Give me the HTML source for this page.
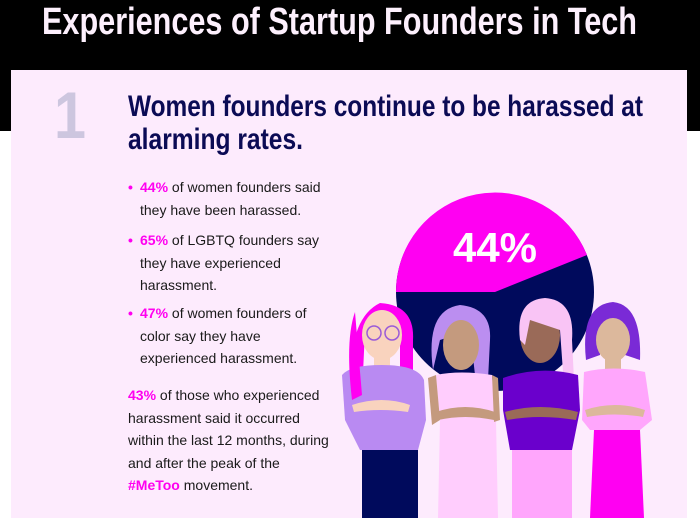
<!DOCTYPE html>
<html><head><meta charset="utf-8"><style>
*{margin:0;padding:0}
body{width:700px;height:518px;position:relative;overflow:hidden;background:#fff;font-family:"Liberation Sans",sans-serif}
#top{position:absolute;left:0;top:0;width:700px;height:131px;background:#000}
#panel{position:absolute;left:11px;top:70px;width:676px;height:448px;background:#fdebfd}
.t{position:absolute;left:128px;color:#1a1a1a;font-size:14px;line-height:22.5px;white-space:nowrap}
.t b{color:#ff00f0}
.t .d{color:#ff00f0;font-weight:bold;display:inline-block;width:12px}
.t .i{padding-left:12px}
</style></head><body>
<div id="top"></div>
<div id="panel"></div>
<svg style="position:absolute;left:0;top:0" width="700" height="160">
<text x="42" y="34" fill="#fdf0fd" font-family="Liberation Sans" font-weight="bold" font-size="38" textLength="595" lengthAdjust="spacingAndGlyphs">Experiences of Startup Founders in Tech</text>
<text x="54" y="138" fill="#cdc6df" font-family="Liberation Sans" font-weight="bold" font-size="66" textLength="32" lengthAdjust="spacingAndGlyphs">1</text>
<text x="128" y="116" fill="#0b0b55" font-family="Liberation Sans" font-weight="bold" font-size="30" textLength="515" lengthAdjust="spacingAndGlyphs">Women founders continue to be harassed at</text>
<text x="128" y="149" fill="#0b0b55" font-family="Liberation Sans" font-weight="bold" font-size="30" textLength="175" lengthAdjust="spacingAndGlyphs">alarming rates.</text>
</svg>
<div class="t" style="top:176px"><span class="d">•</span><b>44%</b> of women founders said<br><span class="i">they have been harassed.</span></div>
<div class="t" style="top:229px"><span class="d">•</span><b>65%</b> of LGBTQ founders say<br><span class="i">they have experienced</span><br><span class="i">harassment.</span></div>
<div class="t" style="top:302px"><span class="d">•</span><b>47%</b> of women founders of<br><span class="i">color say they have</span><br><span class="i">experienced harassment.</span></div>
<div class="t" style="top:384px"><b>43%</b> of those who experienced<br>harassment said it occurred<br>within the last 12 months, during<br>and after the peak of the<br><b>#MeToo</b> movement.</div>
<svg style="position:absolute;left:0;top:0" width="700" height="518">
<circle cx="495" cy="292" r="99" fill="#000a5c"/>
<path d="M495 292 L396 292 A99 99 0 0 1 587 255 Z" fill="#ff00f2"/>
<text x="495" y="262" fill="#fff" font-family="Liberation Sans" font-weight="bold" font-size="42" text-anchor="middle">44%</text>
<path d="M352 400 Q345 320 380 303 Q415 305 413 340 L413 390 L400 395 L400 330 L365 330 L362 395Z" fill="#ff00f2"/>
<ellipse cx="382" cy="335" rx="20" ry="25" fill="#f9d3be"/>
<rect x="374" y="355" width="16" height="14" fill="#f9d3be"/>
<path d="M342 375 Q350 365 382 365 Q418 365 424 380 L426 420 L418 450 L360 450 L345 420Z" fill="#b98af2"/>
<rect x="362" y="450" width="56" height="68" fill="#000a5c"/>
<path d="M352 405 Q382 395 410 405 L408 412 Q380 408 354 412Z" fill="#f9d3be"/>
<circle cx="374" cy="333" r="7" fill="none" stroke="#9a5ad8" stroke-width="1.5"/>
<circle cx="392" cy="333" r="7" fill="none" stroke="#9a5ad8" stroke-width="1.5"/>
<path d="M352 400 Q345 340 355 312 L362 395Z" fill="#ff00f2"/>
<path d="M433 370 Q425 310 460 305 Q492 308 490 340 L488 380 L475 375 L470 330 L440 340Z" fill="#bb8ef0"/>
<ellipse cx="461" cy="345" rx="18" ry="25" fill="#c49a7e"/>
<path d="M436 375 Q460 370 492 375 L496 420 L498 518 L438 518 L440 420Z" fill="#ffcdfd"/>
<path d="M428 378 L436 375 L440 420 L432 425Z M492 375 L498 378 L500 420 L494 422Z" fill="#c49a7e"/>
<path d="M436 412 Q465 402 495 412 L494 420 Q465 414 438 420Z" fill="#c49a7e"/>
<ellipse cx="540" cy="335" rx="20" ry="28" fill="#9a6a58"/>
<path d="M520 340 Q515 300 545 298 Q575 300 572 340 L575 400 L565 400 L560 330 L530 320 L525 345Z" fill="#f9c4f5"/>
<path d="M503 378 Q540 365 578 375 L580 410 L572 450 L510 450 L503 410Z" fill="#6a00cc"/>
<rect x="512" y="450" width="60" height="68" fill="#ffa6fc"/>
<path d="M505 412 Q540 402 578 412 L576 420 Q540 414 507 420Z" fill="#9a6a58"/>
<path d="M586 360 Q580 305 613 302 Q642 305 640 360 L625 355 L625 330 L600 330 L600 355Z" fill="#7a2ad6"/>
<ellipse cx="613" cy="340" rx="17" ry="22" fill="#dcb89c"/>
<rect x="605" y="355" width="16" height="14" fill="#dcb89c"/>
<path d="M584 372 Q613 365 645 372 L652 420 L640 430 L590 430 L582 420Z" fill="#ffa6fc"/>
<path d="M594 430 L640 430 L644 518 L590 518Z" fill="#ff00f2"/>
<path d="M585 410 Q615 400 645 410 L643 417 Q615 412 587 417Z" fill="#dcb89c"/>
</svg>
</body></html>
